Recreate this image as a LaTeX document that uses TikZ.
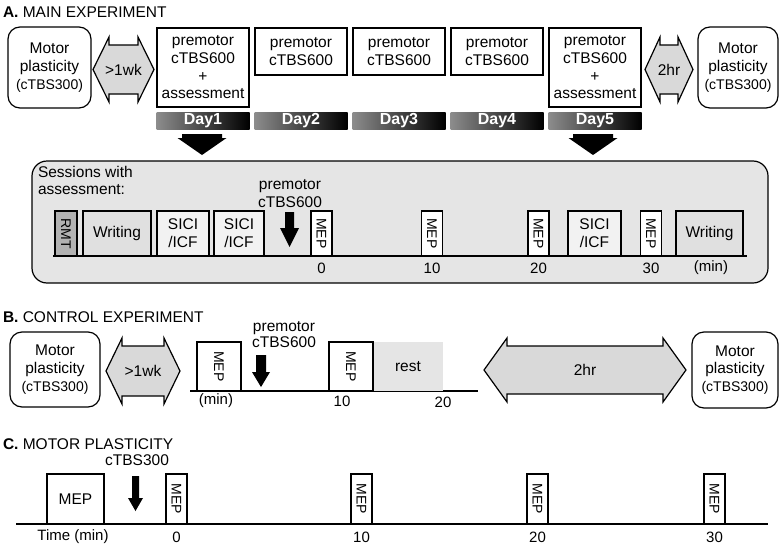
\documentclass[tikz,border=0pt]{standalone}
\usepackage{fontspec}
\setmainfont{Liberation Sans}
\usetikzlibrary{positioning,calc}

\tikzset{
  pics/twoway/.style n args={4}{code={
    \draw[line width=1.2pt,fill=black!15,line join=miter]
      (-#1/2,0) -- (-#1/2+#3,-#2/2) -- (-#1/2+#3,-#2/2+#4) -- (#1/2-#3,-#2/2+#4)
      -- (#1/2-#3,-#2/2) -- (#1/2,0) -- (#1/2-#3,#2/2) -- (#1/2-#3,#2/2-#4)
      -- (-#1/2+#3,#2/2-#4) -- (-#1/2+#3,#2/2) -- cycle;
  }},
  pics/downarrow/.style n args={4}{code={
    \fill (-#3/2,-#1/2) -- (#3/2,-#1/2) -- (#3/2,#1/2-#4) -- (#2/2,#1/2-#4)
      -- (0,#1/2) -- (-#2/2,#1/2-#4) -- (-#3/2,#1/2-#4) -- cycle;
  }}
}

\begin{document}
\begin{tikzpicture}[x=1pt,y=-1pt,
  every node/.style={inner sep=0pt,outer sep=0pt},
  txt/.style={font=\fontsize{15.5}{17.7}\selectfont,align=center},
  small/.style={font=\fontsize{14}{16}\selectfont},
  sectitle/.style={font=\fontsize{15.5}{18}\selectfont,anchor=base west},
  motor/.style={draw,line width=1.2pt,rounded corners=12pt,txt},
  daybox/.style={draw,line width=1.2pt,txt,minimum width=92},
  daybar/.style={left color=black!45,right color=black,minimum width=93,minimum height=17,
    text=white,font=\bfseries\fontsize{16}{18}\selectfont},
  slot/.style={draw,line width=1.2pt,fill=white},
  vslot/.style={slot,rotate=-90,small},
  tick/.style={font=\fontsize{15}{17}\selectfont},
  axis/.style={line width=1.4pt}
]
\useasboundingbox (0,0) rectangle (782,549);

% A. main experiment
\node[sectitle] (titleA) at (3,17) {\textbf{A.} MAIN EXPERIMENT};
\node[motor,minimum width=83,minimum height=81] (motorA) at (49.5,67.5) {Motor\\plasticity\\{\fontsize{14}{16}\selectfont(cTBS300)}};
\pic at (123.5,69.5) {twoway={61}{65}{16}{8}};
\node[txt] (wkA) at (123.5,69.5) {>1wk};
\node[daybox,minimum height=79] (day1) at (203,67.5) {premotor\\cTBS600\\+\\assessment};
\foreach \i/\x in {2/301,3/399,4/497}
  \node[daybox,minimum height=47] (day\i) at (\x,51.5) {premotor\\cTBS600};
\node[daybox,minimum height=79] (day5) at (595,67.5) {premotor\\cTBS600\\+\\assessment};
\pic at (669,69.5) {twoway={48}{65}{15}{8}};
\node[txt] (hrA) at (669,69.5) {2hr};
\node[motor,minimum width=80,minimum height=81] (motorA2) at (738,67.5) {Motor\\plasticity\\{\fontsize{14}{16}\selectfont(cTBS300)}};
\foreach \i/\x in {1/203,2/301,3/399,4/497,5/595}
  \node[daybar] (bar\i) at (\x,120.5) {Day\i};
\pic at (202,144.5) {downarrow={21}{49}{40}{17}};
\pic at (593,144.5) {downarrow={21}{49}{40}{17}};

% sessions with assessment
\node[draw,line width=1.2pt,fill=black!10,rounded corners=15pt,minimum width=736,minimum height=122] (sess) at (400,222) {};
\node[txt,align=left,anchor=north west] (sesslbl) at (38,166) {Sessions with\\assessment:};
\coordinate (sL) at (53,256);
\coordinate (sR) at (747,256);
\draw[axis] (sL) -- (sR);
\node[vslot,fill=black!30,minimum width=45,minimum height=22] (rmt) at (66,233.5) {RMT};
\node[slot,fill=black!12,minimum width=68,minimum height=45,txt] (wr1) at (117,233.5) {Writing};
\node[slot,fill=black!5,minimum width=52,minimum height=45,txt] (sici1) at (183,233.5) {SICI\\/ICF};
\node[slot,fill=black!5,minimum width=50,minimum height=45,txt] (sici2) at (239,233.5) {SICI\\/ICF};
\pic at (289.5,229.5) {downarrow={35}{19}{9}{19}};
\node[txt,font=\fontsize{15.5}{18}\selectfont] (pmS) at (290,193.5) {premotor\\cTBS600};
\foreach \n/\x in {0/321.5,10/432,20/538.5,30/651}{
  \node[vslot,minimum width=45,minimum height=21] (mepS\n) at (\x,233.5) {MEP};
  \node[tick] at (\x,268) {\n};
}
\node[slot,fill=black!5,minimum width=53,minimum height=45,txt] (sici3) at (594.5,233.5) {SICI\\/ICF};
\node[slot,fill=black!12,minimum width=67,minimum height=45,txt] (wr2) at (709.5,233.5) {Writing};
\node[tick] (minS) at (711,268) {(min)};

% B. control experiment
\node[sectitle] (titleB) at (3,322) {\textbf{B.} CONTROL EXPERIMENT};
\node[motor,minimum width=90,minimum height=75] (motorB) at (55,369.5) {Motor\\plasticity\\{\fontsize{14}{16}\selectfont(cTBS300)}};
\pic at (143,371) {twoway={74}{66}{16}{8}};
\node[txt] (wkB) at (143,371) {>1wk};
\coordinate (bL) at (190,391);
\coordinate (bR) at (478,391);
\draw[axis] (bL) -- (bR);
\node[fill=black!10,minimum width=70,minimum height=49,txt] (rest) at (408,366.5) {rest};
\node[vslot,minimum width=49,minimum height=44] (mepB1) at (219,366.5) {MEP};
\node[vslot,minimum width=49,minimum height=44] (mepB2) at (351,366.5) {MEP};
\pic at (261,371) {downarrow={32}{18}{10}{15}};
\node[txt,font=\fontsize{15.5}{16}\selectfont] (pmB) at (284,335) {premotor\\cTBS600};
\node[tick] (minB) at (216,401) {(min)};
\node[tick] (tenB) at (342,401) {10};
\node[tick] (twentyB) at (443,402) {20};
\pic at (585,370) {twoway={202}{64}{23}{8}};
\node[txt] (hrB) at (585,370) {2hr};
\node[motor,minimum width=86,minimum height=76] (motorB2) at (735,370) {Motor\\plasticity\\{\fontsize{14}{16}\selectfont(cTBS300)}};

% C. motor plasticity
\node[sectitle] (titleC) at (3,449) {\textbf{C.} MOTOR PLASTICITY};
\node[txt] (cT) at (137,460) {cTBS300};
\pic at (135.5,493.5) {downarrow={35}{15}{7}{13}};
\coordinate (cL) at (16,524);
\coordinate (cR) at (768,524);
\draw[axis] (cL) -- (cR);
\node[slot,minimum width=57,minimum height=50,txt] (mepC) at (75.5,499) {MEP};
\foreach \n/\x in {0/176.5,10/361.5,20/537.5,30/714.5}{
  \node[vslot,minimum width=50,minimum height=21] (mepC\n) at (\x,499) {MEP};
  \node[tick] at (\x,537) {\n};
}
\node[tick] (timeC) at (73,537) {Time (min)};
\end{tikzpicture}
\end{document}
